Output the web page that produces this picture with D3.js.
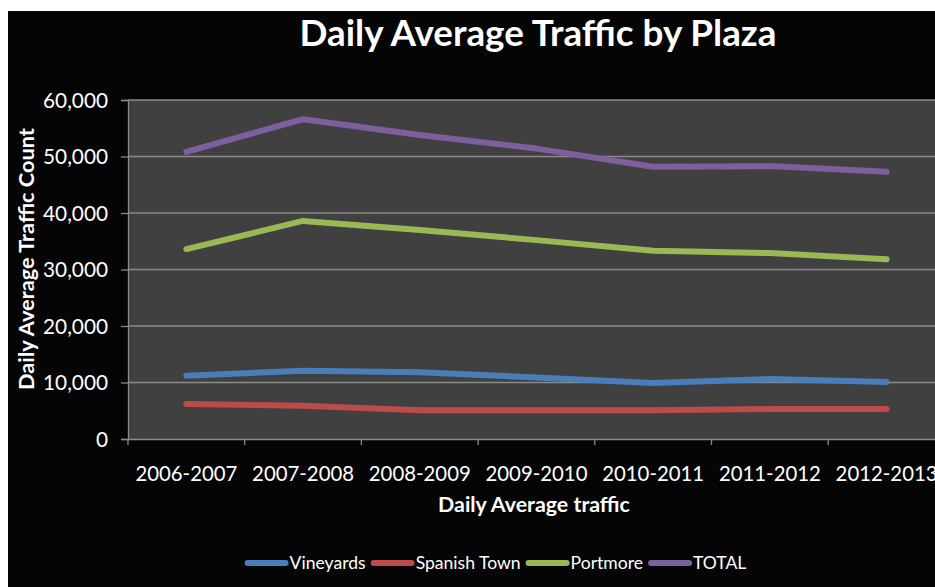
<!DOCTYPE html>
<html>
<head>
<meta charset="utf-8">
<script src="https://cdn.jsdelivr.net/npm/d3@7/dist/d3.min.js"></script>
<style>
  html, body { margin: 0; padding: 0; background: #ffffff; }
  svg { display: block; }
  text { font-family: Lato, "Open Sans", "DejaVu Sans", sans-serif; fill: #ffffff; }
</style>
</head>
<body>
<svg id="chart" width="935" height="587"></svg>
<script>
// Fiscal years on the category axis
const years = ["2006-2007", "2007-2008", "2008-2009", "2009-2010", "2010-2011", "2011-2012", "2012-2013"];

// Daily average traffic count per plaza
const vineyards   = [11200, 12100, 11800, 10900, 9900, 10600, 10100];
const spanishTown = [6200, 5900, 5100, 5100, 5100, 5300, 5300];
const portmore    = [33600, 38600, 37000, 35200, 33300, 32900, 31800];
const total       = [50800, 56600, 53800, 51400, 48200, 48300, 47300];

const seriesNames  = ["Vineyards", "Spanish Town", "Portmore", "TOTAL"];
const seriesValues = [vineyards, spanishTown, portmore, total];
const seriesColors = ["#4a7ebb", "#be4b48", "#98b954", "#7d5fa0"];

const yTicks = [0, 10000, 20000, 30000, 40000, 50000, 60000];

const titleText  = "Daily Average Traffic by Plaza";
const xTitleText = "Daily Average traffic";
const yTitleText = "Daily Average Traffic Count";

const svg = d3.select("#chart");

// Chart area background (page margin stays white at top/left)
svg.append("rect").attr("x", 8).attr("y", 11).attr("width", 935).attr("height", 587).attr("fill", "#050505");

const plot = { left: 128, top: 100, bottom: 439, step: 116.7 };
const x = d3.scaleBand().domain(years).range([plot.left, plot.left + plot.step * years.length]).padding(0);
const y = d3.scaleLinear().domain([0, 60000]).range([plot.bottom, plot.top]);

// Plot area
svg.append("rect")
  .attr("x", plot.left).attr("y", plot.top)
  .attr("width", x.range()[1] - plot.left).attr("height", plot.bottom - plot.top)
  .attr("fill", "#404040");

// Fit a text element to a given width by adjusting font size
function fit(sel, width) {
  const fs = parseFloat(sel.attr("font-size"));
  const w = sel.node().getComputedTextLength();
  sel.attr("font-size", (fs * width / w).toFixed(2));
  return sel;
}

// Horizontal gridlines
svg.append("g").selectAll("line").data(yTicks.filter(d => d > 0)).join("line")
  .attr("x1", plot.left).attr("x2", x.range()[1])
  .attr("y1", d => y(d)).attr("y2", d => y(d))
  .attr("stroke", "#8a8a8a").attr("stroke-width", 1.3);

// Y axis
const yAxis = svg.append("g").attr("transform", `translate(${plot.left},0)`)
  .call(d3.axisLeft(y).tickValues(yTicks).tickSize(7).tickPadding(13).tickFormat(d3.format(",")));
yAxis.select(".domain").attr("stroke", "#8a8a8a").attr("stroke-width", 1.3);
yAxis.selectAll(".tick line").attr("stroke", "#8a8a8a").attr("stroke-width", 1.3);
yAxis.selectAll(".tick text").attr("font-size", 18).attr("fill", "#ffffff")
  .style("font-family", "Lato, 'Open Sans', sans-serif").attr("dy", "0.36em");
{
  const t = yAxis.selectAll(".tick text").filter(d => d === 60000);
  const fs = 18 * 65 / t.node().getComputedTextLength();
  yAxis.selectAll(".tick text").attr("font-size", fs.toFixed(2));
}

// X axis
const xAxis = svg.append("g").attr("transform", `translate(0,${plot.bottom})`)
  .call(d3.axisBottom(x).tickSize(0).tickPadding(28));
xAxis.select(".domain").attr("stroke", "#8a8a8a").attr("stroke-width", 1.3);
xAxis.selectAll(".tick text").attr("font-size", 18).attr("fill", "#ffffff")
  .style("font-family", "Lato, 'Open Sans', sans-serif");
{
  const t = xAxis.select(".tick text");
  const fs = 18 * 102 / t.node().getComputedTextLength();
  xAxis.selectAll(".tick text").attr("font-size", fs.toFixed(2));
}
// Tick marks on category boundaries
svg.append("g").selectAll("line").data(years.map(d => x(d))).join("line")
  .attr("x1", d => d).attr("x2", d => d)
  .attr("y1", plot.bottom).attr("y2", plot.bottom + 6)
  .attr("stroke", "#8a8a8a").attr("stroke-width", 1.3);

// Series lines
const line = d3.line()
  .x((d, i) => x(years[i]) + x.bandwidth() / 2)
  .y(d => y(d));

svg.append("g").selectAll("path").data(seriesValues).join("path")
  .attr("d", d => line(d))
  .attr("fill", "none")
  .attr("stroke", (d, i) => seriesColors[i])
  .attr("stroke-width", 6)
  .attr("stroke-linecap", "round")
  .attr("stroke-linejoin", "round");

// Title
fit(svg.append("text")
  .attr("x", 538).attr("y", 46).attr("text-anchor", "middle")
  .attr("font-size", 30).attr("font-weight", "bold")
  .text(titleText), 477);

// Axis titles
fit(svg.append("text")
  .attr("x", 534).attr("y", 512).attr("text-anchor", "middle")
  .attr("font-size", 17).attr("font-weight", "bold")
  .text(xTitleText), 192);

fit(svg.append("text")
  .attr("transform", "translate(34,259) rotate(-90)")
  .attr("text-anchor", "middle")
  .attr("font-size", 18).attr("font-weight", "bold")
  .text(yTitleText), 262);

// Legend
const legend = svg.append("g");
const legendFont = 18;
const items = legend.selectAll("g").data(seriesNames).join("g");
items.append("line")
  .attr("x1", 0).attr("x2", 38).attr("y1", 0).attr("y2", 0)
  .attr("stroke", (d, i) => seriesColors[i])
  .attr("stroke-width", 6).attr("stroke-linecap", "round");
items.append("text")
  .attr("x", 42).attr("y", 6)
  .attr("font-size", legendFont)
  .text(d => d);
{
  // scale legend font so "Spanish Town" spans about 105px
  const st = items.filter(d => d === "Spanish Town").select("text");
  const fs = legendFont * 105 / st.node().getComputedTextLength();
  items.selectAll("text").attr("font-size", fs.toFixed(2));
  let cx = 0;
  items.each(function () {
    const g = d3.select(this);
    g.attr("transform", `translate(${cx},0)`);
    cx += 42 + g.select("text").node().getComputedTextLength() + 8;
  });
  const totalW = cx - 8;
  legend.attr("transform", `translate(${494 - totalW / 2 + 3},563)`);
}
</script>
</body>
</html>
